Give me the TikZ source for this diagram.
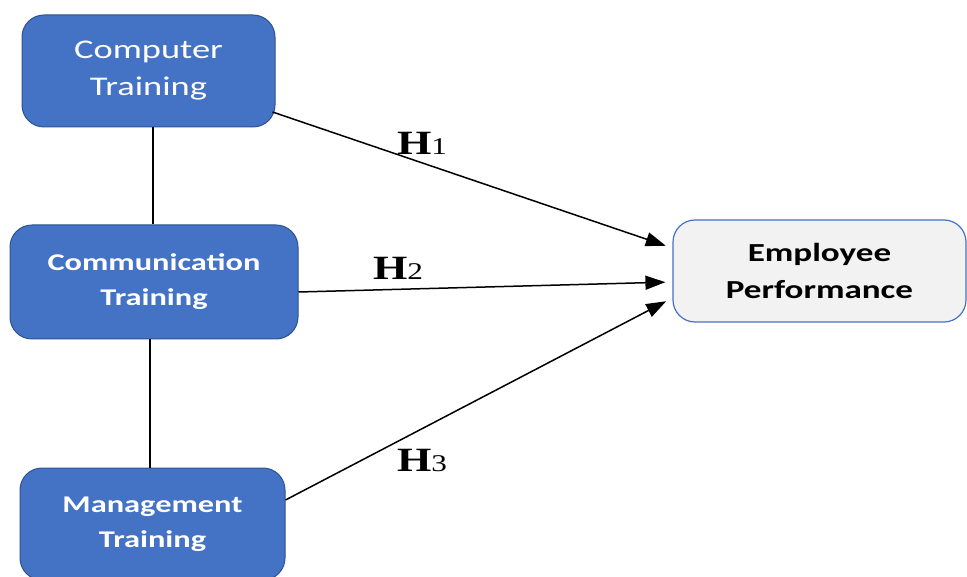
\documentclass[tikz,border=0pt]{standalone}
\usepackage{fontspec}
\newfontfamily\boxfont[FakeStretch=1.35]{Carlito}
\newfontfamily\hfont[FakeStretch=1.3]{Liberation Serif}
\usetikzlibrary{arrows.meta}
\definecolor{boxblue}{HTML}{4472C4}
\definecolor{boxedge}{HTML}{2F528F}
\definecolor{perfgray}{HTML}{F2F2F2}
\tikzset{
  trainbox/.style = {draw=boxedge, line width=1pt, fill=boxblue, text=white,
    rounded corners=22pt, align=center, font=\boxfont\bfseries\fontsize{24}{35}\selectfont},
  perfbox/.style = {draw=boxblue, line width=1.2pt, fill=perfgray, text=black,
    rounded corners=22pt, align=center, font=\boxfont\bfseries\fontsize{26}{37}\selectfont},
  hyp/.style = {-{Triangle[length=20pt,width=14pt]}, line width=1.5pt, shorten >=7pt},
  hlabel/.style = {font=\hfont\bfseries\fontsize{34}{34}\selectfont}
}
\newcommand{\hsub}[1]{H{\fontsize{24}{24}\selectfont\mdseries #1}}
\begin{document}
\begin{tikzpicture}[x=1pt, y=-1pt]
\useasboundingbox (0,0) rectangle (967,577);
\node [trainbox, minimum width=253pt, minimum height=112pt,
  font=\boxfont\fontsize{27}{37}\selectfont] (comp) at (148.5,71) {Computer\\Training};
\node [trainbox, minimum width=288pt, minimum height=114pt] (comm) at (154,282) {Communication\\Training};
\node [trainbox, minimum width=265pt, minimum height=112pt] (mgmt) at (152.5,524) {Management\\Training};
\node [perfbox, minimum width=293pt, minimum height=102pt] (perf) at (819.5,271) {Employee\\Performance};
% links between the training boxes
\draw [line width=1.3pt] (comp.south) ++(4.5pt,0) coordinate (c1) -- (c1 |- comm.north);
\draw [line width=1.3pt] (comm.south) ++(-4pt,0) coordinate (c2) -- (c2 |- mgmt.north);
% hypotheses
\draw [hyp] ([yshift=-41pt, xshift=-3pt]comp.east) -- ([yshift=23pt]perf.west);
\draw [hyp] ([yshift=-10pt]comm.east) -- ([yshift=-11pt]perf.west);
\draw [hyp] ([yshift=24pt]mgmt.east) -- ([yshift=-27pt]perf.west);
\node [hlabel] (h1) at (422,143) {\hsub{1}};
\node [hlabel] (h2) at (398,268) {\hsub{2}};
\node [hlabel] (h3) at (422,460) {\hsub{3}};
\end{tikzpicture}
\end{document}
